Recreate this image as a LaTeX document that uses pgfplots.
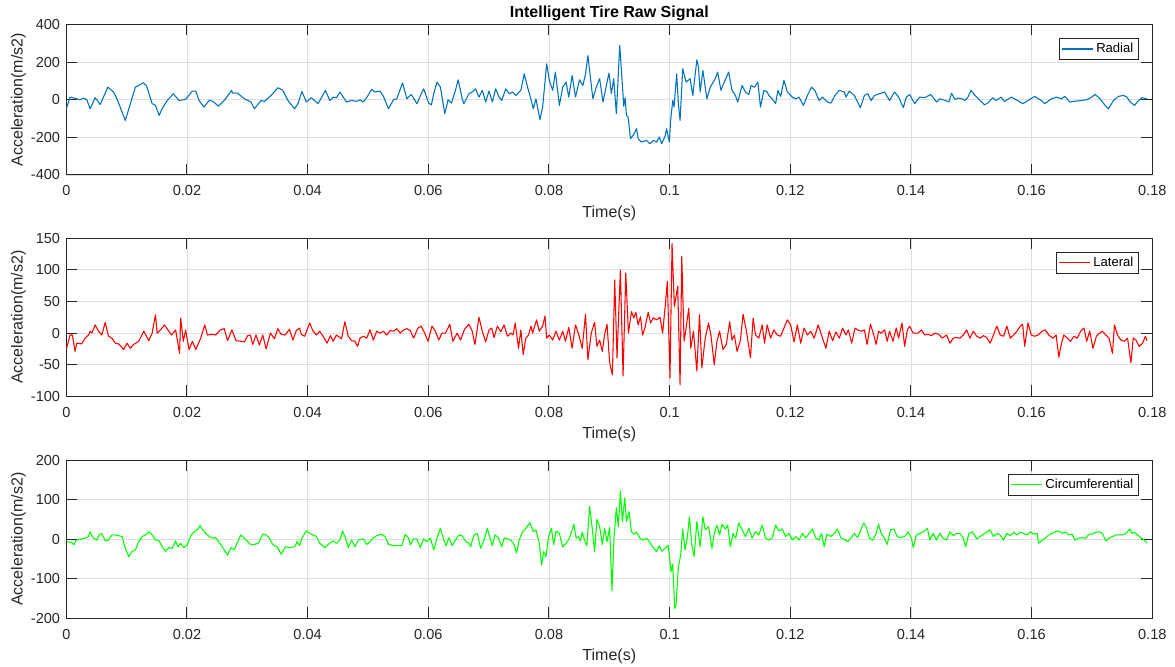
\documentclass[border=0pt]{standalone}
\usepackage{fontspec}
\setmainfont{Liberation Sans}
\setsansfont{Liberation Sans}
\usepackage{pgfplots}
\usepackage{pgfplotstable}
\pgfplotsset{compat=1.18}

\definecolor{radialblue}{RGB}{0,114,189}
\definecolor{latred}{RGB}{255,0,0}
\definecolor{circgreen}{RGB}{0,255,0}
\definecolor{axisgray}{RGB}{38,38,38}
\definecolor{gridgray}{RGB}{223,223,223}

% Radial acceleration (m/s^2) against time (s)
\pgfplotstableread{
t a
0.00000 -48
0.00062 14
0.00173 5
0.00228 0
0.00284 9
0.00340 0
0.00395 -48
0.00478 11
0.00562 -25
0.00689 67
0.00784 41
0.00840 5
0.00978 -110
0.01145 67
0.01200 76
0.01273 90
0.01328 76
0.01423 -21
0.01478 -30
0.01539 -83
0.01589 -48
0.01673 -4
0.01773 32
0.01867 -4
0.01978 2
0.02089 46
0.02145 46
0.02200 -4
0.02284 -39
0.02367 -4
0.02423 -7
0.02523 -34
0.02617 -4
0.02700 32
0.02740 50
0.02756 35
0.02840 35
0.02951 5
0.03062 -12
0.03117 -48
0.03228 -4
0.03284 -9
0.03395 23
0.03506 64
0.03590 50
0.03673 -4
0.03784 -48
0.03840 -21
0.03906 44
0.03979 -12
0.04062 11
0.04173 -21
0.04228 11
0.04295 50
0.04367 -4
0.04423 14
0.04478 11
0.04534 41
0.04645 -12
0.04728 -4
0.04812 -9
0.04867 0
0.04923 -12
0.04978 11
0.05062 55
0.05117 41
0.05200 46
0.05256 18
0.05340 -48
0.05423 0
0.05478 5
0.05573 90
0.05645 5
0.05717 28
0.05812 -21
0.05895 41
0.05923 58
0.06006 -18
0.06051 -27
0.06090 32
0.06145 94
0.06201 67
0.06273 -74
0.06328 0
0.06384 -18
0.06450 50
0.06495 106
0.06562 5
0.06590 -21
0.06673 32
0.06728 41
0.06784 58
0.06840 14
0.06895 50
0.06951 -12
0.07006 46
0.07062 -12
0.07117 58
0.07173 14
0.07217 -4
0.07284 58
0.07340 32
0.07395 41
0.07451 23
0.07534 50
0.07590 138
0.07645 67
0.07684 23
0.07740 -48
0.07784 5
0.07851 -106
0.07895 -39
0.07962 191
0.08006 103
0.08062 50
0.08106 147
0.08173 -30
0.08228 67
0.08284 94
0.08328 14
0.08384 129
0.08440 14
0.08506 106
0.08562 76
0.08606 138
0.08645 235
0.08673 156
0.08728 5
0.08784 67
0.08840 112
0.08895 -12
0.08951 76
0.08995 142
0.09034 32
0.09073 112
0.09117 -74
0.09173 288
0.09201 156
0.09240 -35
0.09262 11
0.09284 -83
0.09312 -92
0.09351 -207
0.09395 -189
0.09451 -154
0.09478 -207
0.09534 -225
0.09617 -216
0.09673 -234
0.09728 -216
0.09784 -225
0.09828 -198
0.09867 -234
0.09923 -195
0.09950 -154
0.09995 -225
0.10017 -110
0.10051 -4
0.10073 -39
0.10117 138
0.10145 -21
0.10173 -110
0.10217 165
0.10273 94
0.10340 112
0.10384 23
0.10451 212
0.10478 173
0.10506 41
0.10551 156
0.10617 5
0.10673 67
0.10756 112
0.10795 147
0.10851 50
0.10906 94
0.10978 147
0.11034 50
0.11090 23
0.11128 -12
0.11201 76
0.11256 41
0.11312 28
0.11351 76
0.11406 67
0.11462 94
0.11506 -39
0.11562 50
0.11617 41
0.11645 23
0.11701 5
0.11756 -21
0.11795 50
0.11840 18
0.11895 103
0.11951 41
0.12034 14
0.12090 5
0.12145 14
0.12217 -30
0.12284 23
0.12351 67
0.12406 50
0.12478 -4
0.12534 14
0.12617 -12
0.12673 -18
0.12740 23
0.12812 50
0.12895 41
0.12923 14
0.12978 46
0.13062 23
0.13162 -42
0.13228 23
0.13284 32
0.13340 -4
0.13395 23
0.13478 32
0.13562 41
0.13645 -4
0.13728 41
0.13795 14
0.13873 -42
0.13923 14
0.13978 28
0.14062 -21
0.14145 14
0.14228 11
0.14328 28
0.14423 -12
0.14478 5
0.14534 0
0.14628 -12
0.14673 35
0.14728 2
0.14784 9
0.14851 5
0.14895 -4
0.14940 11
0.14995 50
0.15062 23
0.15145 -4
0.15217 -27
0.15273 -18
0.15356 11
0.15412 -4
0.15495 14
0.15551 -9
0.15662 14
0.15745 0
0.15856 -21
0.15940 -4
0.16051 18
0.16162 -4
0.16217 -21
0.16328 5
0.16412 14
0.16495 5
0.16551 18
0.16634 -12
0.16745 -7
0.16828 -4
0.16912 0
0.16995 14
0.17051 28
0.17134 5
0.17217 -30
0.17273 -48
0.17356 -4
0.17440 18
0.17523 23
0.17578 14
0.17634 -12
0.17706 -30
0.17773 -4
0.17828 11
0.17912 5
}\radialdata

% Lateral acceleration (m/s^2) against time (s)
\pgfplotstableread{
t a
0.00006 -24
0.00062 -3
0.00101 -3
0.00145 -29
0.00173 -16
0.00256 -17
0.00312 -8
0.00367 -3
0.00395 3
0.00423 0
0.00478 13
0.00534 3
0.00589 -3
0.00645 17
0.00700 -5
0.00756 -8
0.00812 -16
0.00867 -17
0.00951 -26
0.01006 -16
0.01062 -24
0.01117 -18
0.01200 -13
0.01284 3
0.01367 -12
0.01423 0
0.01478 29
0.01506 0
0.01562 5
0.01628 13
0.01684 5
0.01745 -3
0.01812 5
0.01878 -32
0.01895 24
0.01939 -13
0.01978 5
0.02034 -26
0.02090 -13
0.02145 -26
0.02228 -8
0.02295 13
0.02340 -3
0.02423 -2
0.02478 -3
0.02551 5
0.02617 7
0.02673 -12
0.02745 5
0.02812 -12
0.02895 -13
0.02951 -14
0.03006 -4
0.03050 -3
0.03090 -18
0.03145 -3
0.03200 -19
0.03256 -3
0.03312 -25
0.03384 0
0.03450 -9
0.03506 7
0.03562 -2
0.03628 -3
0.03700 6
0.03756 -11
0.03812 4
0.03867 8
0.03895 -2
0.03950 -5
0.04034 16
0.04090 3
0.04145 -3
0.04200 3
0.04256 -5
0.04323 -16
0.04378 -4
0.04423 -13
0.04478 -3
0.04562 -9
0.04617 18
0.04673 -5
0.04728 -12
0.04784 -13
0.04828 -21
0.04867 -8
0.04923 -5
0.04978 -8
0.05034 5
0.05090 -11
0.05145 3
0.05200 0
0.05256 3
0.05312 -3
0.05367 4
0.05423 3
0.05478 7
0.05534 0
0.05590 5
0.05645 7
0.05701 4
0.05756 -8
0.05828 8
0.05884 11
0.05940 0
0.05995 -13
0.06062 11
0.06117 3
0.06173 -11
0.06228 0
0.06284 0
0.06357 14
0.06406 -13
0.06478 0
0.06534 -11
0.06600 6
0.06673 14
0.06728 3
0.06773 -18
0.06840 25
0.06895 3
0.06951 -14
0.07006 5
0.07051 8
0.07090 -7
0.07145 11
0.07201 2
0.07256 13
0.07312 -5
0.07367 0
0.07406 -3
0.07440 16
0.07495 -24
0.07534 5
0.07573 -34
0.07617 -8
0.07662 -3
0.07701 11
0.07728 0
0.07795 21
0.07840 3
0.07895 11
0.07934 27
0.07962 -8
0.08006 -3
0.08062 -11
0.08117 3
0.08173 -11
0.08228 3
0.08273 -13
0.08328 9
0.08384 -24
0.08440 13
0.08495 -3
0.08551 -24
0.08606 30
0.08645 -42
0.08701 0
0.08756 17
0.08795 -21
0.08840 -11
0.08884 -29
0.08923 -2
0.08962 14
0.09006 -47
0.09051 -66
0.09090 84
0.09128 -39
0.09184 100
0.09228 -68
0.09273 95
0.09317 0
0.09367 34
0.09406 24
0.09440 33
0.09478 13
0.09517 26
0.09551 -3
0.09590 8
0.09645 33
0.09684 16
0.09728 24
0.09784 21
0.09840 25
0.09884 0
0.09923 39
0.09962 82
0.10006 -71
0.10040 142
0.10078 42
0.10134 74
0.10173 -82
0.10201 121
0.10240 -13
0.10273 8
0.10317 39
0.10351 -24
0.10395 3
0.10451 -60
0.10495 29
0.10534 -55
0.10590 -8
0.10645 16
0.10684 -3
0.10740 -50
0.10784 -13
0.10828 3
0.10884 -26
0.10940 -18
0.10995 18
0.11034 -11
0.11073 -3
0.11117 -29
0.11173 -12
0.11217 30
0.11273 3
0.11340 -39
0.11384 24
0.11423 -3
0.11478 -8
0.11534 13
0.11573 -16
0.11617 13
0.11673 -8
0.11728 5
0.11784 -3
0.11840 -5
0.11895 8
0.11951 21
0.12006 13
0.12062 -14
0.12117 13
0.12173 -16
0.12228 8
0.12284 -3
0.12340 3
0.12395 -8
0.12462 13
0.12517 -3
0.12590 -24
0.12645 3
0.12701 -12
0.12756 2
0.12812 -8
0.12867 8
0.12923 -3
0.12962 5
0.13017 -16
0.13073 8
0.13117 5
0.13173 3
0.13228 5
0.13273 -18
0.13328 14
0.13384 -3
0.13423 -18
0.13462 3
0.13506 0
0.13562 5
0.13606 -13
0.13645 3
0.13701 -13
0.13756 8
0.13795 -8
0.13851 16
0.13895 -21
0.13940 5
0.13978 11
0.14034 0
0.14117 0
0.14173 5
0.14228 -3
0.14284 -2
0.14340 -4
0.14395 0
0.14462 -2
0.14517 -8
0.14590 -3
0.14645 -16
0.14701 -8
0.14756 -7
0.14812 -8
0.14867 -3
0.14923 5
0.14978 -8
0.15034 3
0.15090 -5
0.15145 -8
0.15201 -4
0.15256 -7
0.15312 -16
0.15367 -3
0.15423 11
0.15478 -3
0.15534 -5
0.15590 11
0.15645 -8
0.15701 -3
0.15756 3
0.15812 11
0.15851 14
0.15884 -21
0.15940 16
0.15995 -3
0.16051 -5
0.16106 -3
0.16173 3
0.16228 5
0.16284 -3
0.16351 -8
0.16406 -3
0.16451 -38
0.16490 -18
0.16534 -3
0.16590 -8
0.16645 -13
0.16701 -5
0.16756 -8
0.16812 3
0.16867 8
0.16912 -13
0.16962 3
0.17017 -24
0.17073 -5
0.17128 0
0.17173 3
0.17228 -3
0.17284 -8
0.17340 -32
0.17373 13
0.17423 -3
0.17478 -11
0.17534 -13
0.17590 -8
0.17645 -47
0.17684 -8
0.17728 -11
0.17784 -21
0.17840 -16
0.17884 -5
0.17912 -12
}\lateraldata

% Circumferential acceleration (m/s^2) against time (s)
\pgfplotstableread{
t a
0.00006 -6
0.00089 -8
0.00128 -14
0.00162 -2
0.00228 0
0.00312 3
0.00367 7
0.00395 19
0.00440 4
0.00506 -2
0.00550 13
0.00589 14
0.00645 -4
0.00700 -2
0.00756 11
0.00812 11
0.00867 9
0.00923 7
0.00978 -23
0.01034 -44
0.01090 -31
0.01145 -27
0.01200 -6
0.01256 7
0.01312 11
0.01367 19
0.01423 11
0.01478 -2
0.01534 -3
0.01590 -19
0.01645 -30
0.01701 -21
0.01756 -23
0.01812 -4
0.01851 -19
0.01895 -10
0.01950 -21
0.02006 -14
0.02062 9
0.02117 19
0.02173 24
0.02217 35
0.02256 24
0.02312 15
0.02367 7
0.02423 3
0.02478 4
0.02506 -2
0.02562 -14
0.02617 -27
0.02673 -40
0.02728 -21
0.02784 -27
0.02840 -6
0.02895 11
0.02951 3
0.03006 -6
0.03062 -14
0.03117 -13
0.03184 -10
0.03256 13
0.03312 11
0.03367 3
0.03423 -14
0.03495 -19
0.03562 -38
0.03628 -19
0.03700 -21
0.03784 -19
0.03828 -6
0.03867 -16
0.03906 3
0.03978 21
0.04034 15
0.04090 11
0.04145 7
0.04200 -10
0.04284 -21
0.04340 -13
0.04423 -4
0.04478 -10
0.04534 -2
0.04578 21
0.04628 3
0.04673 -21
0.04728 -2
0.04784 -19
0.04840 -2
0.04923 1
0.04978 -13
0.05034 -6
0.05090 4
0.05145 9
0.05228 13
0.05284 7
0.05340 -13
0.05423 -16
0.05506 -16
0.05562 -16
0.05617 13
0.05673 3
0.05701 -14
0.05756 1
0.05812 1
0.05867 -21
0.05923 1
0.05978 -6
0.06034 3
0.06090 -27
0.06145 3
0.06201 28
0.06256 -2
0.06295 -16
0.06340 4
0.06395 -16
0.06450 -2
0.06506 11
0.06562 9
0.06617 -5
0.06673 -10
0.06701 -19
0.06756 11
0.06812 15
0.06867 -23
0.06923 -2
0.06978 28
0.07023 3
0.07062 -16
0.07106 11
0.07162 4
0.07217 -19
0.07256 3
0.07312 1
0.07367 -2
0.07423 -13
0.07462 -35
0.07506 -2
0.07562 19
0.07617 28
0.07684 42
0.07740 19
0.07784 24
0.07840 -10
0.07878 -65
0.07912 -31
0.07951 -44
0.07995 7
0.08040 28
0.08078 -14
0.08117 21
0.08173 15
0.08228 -19
0.08284 -10
0.08340 3
0.08384 24
0.08412 38
0.08451 3
0.08490 7
0.08523 -4
0.08551 18
0.08590 -2
0.08628 -16
0.08673 83
0.08717 28
0.08756 -31
0.08795 51
0.08840 32
0.08884 -13
0.08923 28
0.08962 -6
0.09006 30
0.09045 -130
0.09078 3
0.09117 80
0.09150 32
0.09184 122
0.09217 45
0.09256 105
0.09284 45
0.09328 70
0.09367 19
0.09406 13
0.09451 18
0.09506 3
0.09562 -2
0.09617 3
0.09673 -8
0.09728 -21
0.09784 -31
0.09828 -16
0.09867 -30
0.09923 -23
0.09978 -16
0.10023 -82
0.10051 -63
0.10084 -175
0.10106 -166
0.10145 -69
0.10184 -40
0.10217 26
0.10256 -27
0.10295 7
0.10328 57
0.10367 -14
0.10406 -44
0.10451 45
0.10506 -19
0.10551 57
0.10590 24
0.10645 32
0.10701 -23
0.10740 15
0.10784 36
0.10828 11
0.10867 38
0.10923 26
0.10962 36
0.11006 -19
0.11051 15
0.11095 3
0.11145 41
0.11201 24
0.11256 7
0.11312 28
0.11367 3
0.11423 19
0.11478 11
0.11534 36
0.11590 3
0.11645 -2
0.11701 4
0.11756 36
0.11812 21
0.11867 26
0.11923 7
0.11978 15
0.12034 -2
0.12090 7
0.12145 -2
0.12201 15
0.12256 3
0.12312 15
0.12367 26
0.12423 3
0.12478 -2
0.12517 15
0.12562 -19
0.12606 13
0.12673 7
0.12728 15
0.12784 26
0.12840 3
0.12895 0
0.12950 -6
0.13006 3
0.13062 15
0.13117 4
0.13173 26
0.13217 41
0.13256 32
0.13312 3
0.13367 -2
0.13423 15
0.13462 38
0.13506 15
0.13562 3
0.13606 -13
0.13662 24
0.13717 26
0.13773 7
0.13828 4
0.13895 7
0.13951 19
0.14006 3
0.14040 -21
0.14090 11
0.14145 15
0.14201 19
0.14273 28
0.14312 -2
0.14367 15
0.14423 -2
0.14478 15
0.14534 3
0.14590 -2
0.14645 19
0.14701 9
0.14756 15
0.14812 15
0.14867 3
0.14906 -19
0.14962 15
0.15017 19
0.15090 1
0.15145 7
0.15201 13
0.15256 18
0.15312 24
0.15367 7
0.15423 15
0.15478 11
0.15534 -2
0.15590 15
0.15645 9
0.15701 18
0.15756 11
0.15812 18
0.15867 15
0.15923 11
0.15978 19
0.16034 13
0.16090 15
0.16117 -10
0.16173 -2
0.16228 3
0.16284 11
0.16340 15
0.16395 19
0.16451 21
0.16506 15
0.16562 18
0.16617 11
0.16673 13
0.16717 -2
0.16773 3
0.16840 4
0.16895 3
0.16951 13
0.17006 13
0.17062 18
0.17117 19
0.17173 15
0.17228 -4
0.17284 3
0.17340 7
0.17395 11
0.17451 11
0.17506 11
0.17562 15
0.17628 26
0.17662 15
0.17701 18
0.17756 11
0.17812 4
0.17867 -2
0.17912 -10
}\circdata

\pgfplotsset{
  signalaxis/.style={
    scale only axis,
    width=814.5pt,
    anchor=south west,
    xmin=0, xmax=0.18,
    xtick={0,0.02,0.04,0.06,0.08,0.1,0.12,0.14,0.16,0.18},
    xticklabels={0,0.02,0.04,0.06,0.08,0.1,0.12,0.14,0.16,0.18},
    scaled x ticks=false, scaled y ticks=false,
    xtick pos=both, ytick pos=both, ticklabel pos=left,
    tick align=inside,
    major tick length=8.2pt,
    grid=major,
    major grid style={color=gridgray, line width=0.6pt},
    axis line style={color=axisgray, line width=0.75pt},
    every tick/.style={color=axisgray, line width=0.75pt},
    /pgf/number format/assume math mode=true,
    xticklabel style={font=\fontsize{10.9}{13}\selectfont, color=axisgray,
      anchor=base, yshift=-15.75pt, inner sep=0pt},
    yticklabel style={font=\fontsize{10.9}{13}\selectfont, color=axisgray,
      anchor=east, inner sep=0pt, xshift=-4.5pt},
    xlabel={Time(s)},
    ylabel={Acceleration(m/s2)},
    xlabel style={font=\fontsize{12}{14}\selectfont, color=axisgray,
      at={(axis description cs:0.5,0)}, anchor=base, yshift=-32pt, inner sep=0pt},
    ylabel style={font=\fontsize{12}{14}\selectfont, color=axisgray,
      at={(axis description cs:-0.0403,0.5)}, anchor=base, inner sep=0pt},
    every axis title/.style={font=\fontsize{12}{14}\selectfont\bfseries, color=black,
      at={(axis description cs:0.5,1)}, anchor=base, yshift=5.4pt, inner sep=0pt},
    legend cell align=left,
    legend image code/.code={\draw[#1] (0pt,0pt) -- (23.25pt,0pt);},
    legend style={at={(axis description cs:1,1)}, anchor=north east,
      xshift=-10pt, yshift=-10.3pt,
      draw=axisgray, line width=0.5pt, fill=white,
      inner xsep=2pt, inner ysep=1.5pt,
      font=\fontsize{9.8}{11}\selectfont,
      nodes={inner sep=2pt, text=black}},
    every axis plot/.append style={line width=0.8pt, line join=round, no markers},
  }
}

\begin{document}
\begin{tikzpicture}
\useasboundingbox (0pt,0pt) rectangle (881.25pt,500.25pt);

\begin{axis}[signalaxis,
  at={(49.725pt,369pt)}, height=112.875pt,
  ymin=-400, ymax=400,
  ytick={-400,-200,0,200,400},
  yticklabels={-400,-200,0,200,400},
  title={Intelligent Tire Raw Signal}]
\addplot[color=radialblue] table[x=t, y=a] {\radialdata};
\addlegendentry{Radial}
\end{axis}

\begin{axis}[signalaxis,
  at={(49.725pt,203.025pt)}, height=118.5pt,
  ymin=-100, ymax=150,
  ytick={-100,-50,0,50,100,150},
  yticklabels={-100,-50,0,50,100,150}]
\addplot[color=latred] table[x=t, y=a] {\lateraldata};
\addlegendentry{Lateral}
\end{axis}

\begin{axis}[signalaxis,
  at={(49.725pt,36.525pt)}, height=118.5pt,
  ymin=-200, ymax=200,
  ytick={-200,-100,0,100,200},
  yticklabels={-200,-100,0,100,200}]
\addplot[color=circgreen] table[x=t, y=a] {\circdata};
\addlegendentry{Circumferential}
\end{axis}

\end{tikzpicture}
\end{document}
